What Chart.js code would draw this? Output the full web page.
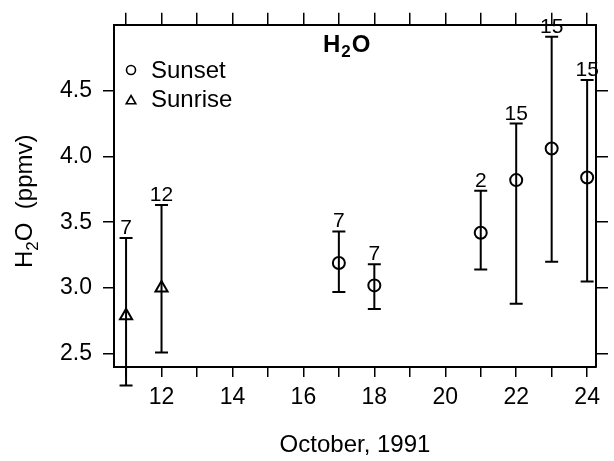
<!DOCTYPE html>
<html>
<head>
<meta charset="utf-8">
<script src="https://cdn.jsdelivr.net/npm/chart.js@4.4.0/dist/chart.umd.min.js"></script>
<style>
  html, body { margin: 0; padding: 0; background: #ffffff; }
  #wrap { width: 614px; height: 461px; }
</style>
</head>
<body>
<div id="wrap"><canvas id="c" width="614" height="461"></canvas></div>
<script>
// ---- data ----
const sunriseDays = [11, 12];
const sunriseMean = [2.79, 3.00];
const sunriseLow  = [2.26, 2.51];
const sunriseHigh = [3.38, 3.63];
const sunriseN    = [7, 12];

const sunsetDays = [17, 18, 21, 22, 23, 24];
const sunsetMean = [3.19, 3.02, 3.42, 3.82, 4.06, 3.84];
const sunsetLow  = [2.97, 2.84, 3.14, 2.88, 3.20, 3.05];
const sunsetHigh = [3.43, 3.18, 3.74, 4.25, 4.91, 4.58];
const sunsetN    = [7, 7, 2, 15, 15, 15];

const xTicks = [11, 12, 13, 14, 15, 16, 17, 18, 19, 20, 21, 22, 23, 24];
const yTicks = [2.5, 3.0, 3.5, 4.0, 4.5];

const X_MIN = 10.66, X_MAX = 24.25;
const Y_MIN = 2.4, Y_MAX = 5.0;

const FONT = '"Liberation Sans", Arial, Helvetica, sans-serif';

// ---- error bars + counts ----
const errorBars = {
  id: 'errorBars',
  beforeDatasetsDraw(chart) {
    const ctx = chart.ctx, xs = chart.scales.x, ys = chart.scales.y;
    const groups = [
      [sunriseDays, sunriseLow, sunriseHigh, sunriseN],
      [sunsetDays, sunsetLow, sunsetHigh, sunsetN]
    ];
    ctx.save();
    ctx.strokeStyle = '#000';
    ctx.fillStyle = '#000';
    ctx.lineWidth = 2;
    ctx.font = '21px ' + FONT;
    ctx.textAlign = 'center';
    ctx.textBaseline = 'alphabetic';
    groups.forEach(([d, lo, hi, n]) => {
      d.forEach((day, i) => {
        const px = xs.getPixelForValue(day);
        const pl = ys.getPixelForValue(lo[i]);
        const ph = ys.getPixelForValue(hi[i]);
        ctx.beginPath();
        ctx.moveTo(px, pl); ctx.lineTo(px, ph);
        ctx.moveTo(px - 6.5, pl); ctx.lineTo(px + 6.5, pl);
        ctx.moveTo(px - 6.5, ph); ctx.lineTo(px + 6.5, ph);
        ctx.stroke();
        ctx.fillText(String(n[i]), px, ph - 4);
      });
    });
    ctx.restore();
  }
};

// ---- title, y-axis title, legend ----
const annotations = {
  id: 'annotations',
  afterDraw(chart) {
    const ctx = chart.ctx;
    ctx.save();
    ctx.fillStyle = '#000';
    ctx.strokeStyle = '#000';
    ctx.textBaseline = 'alphabetic';
    ctx.textAlign = 'left';

    // chart title H2O (bold, subscript)
    let x = 323, base = 52;
    ctx.font = 'bold 24px ' + FONT;
    ctx.fillText('H', x, base); x += ctx.measureText('H').width;
    ctx.font = 'bold 17px ' + FONT;
    ctx.fillText('2', x + 1, base + 5); x += ctx.measureText('2').width + 2;
    ctx.font = 'bold 24px ' + FONT;
    ctx.fillText('O', x, base);

    // y-axis title
    ctx.save();
    ctx.translate(32, 268);
    ctx.rotate(-Math.PI / 2);
    let t = 0;
    ctx.font = '24px ' + FONT;
    ctx.fillText('H', t, 0); t += ctx.measureText('H').width;
    ctx.font = '17px ' + FONT;
    ctx.fillText('2', t, 6); t += ctx.measureText('2').width;
    ctx.font = '24px ' + FONT;
    ctx.fillText('O  (ppmv)', t, 0);
    ctx.restore();

    // legend
    ctx.lineWidth = 1.6;
    ctx.beginPath();
    ctx.arc(131, 70, 4.5, 0, Math.PI * 2);
    ctx.stroke();
    ctx.beginPath();
    const tx = 131, ty = 101, r = 5.5;
    ctx.moveTo(tx, ty - r);
    ctx.lineTo(tx + r * Math.sin(2 * Math.PI / 3), ty - r * Math.cos(2 * Math.PI / 3));
    ctx.lineTo(tx + r * Math.sin(4 * Math.PI / 3), ty - r * Math.cos(4 * Math.PI / 3));
    ctx.closePath();
    ctx.stroke();
    ctx.font = '24px ' + FONT;
    ctx.fillText('Sunset', 151, 78);
    ctx.fillText('Sunrise', 151, 107);
    ctx.restore();
  }
};

const tickGrid = (len) => ({
  display: true, drawOnChartArea: false, drawTicks: true, tickLength: len,
  color: '#000', lineWidth: 1.5, tickColor: '#000', tickWidth: 1.5
});
const frame = { display: true, color: '#000', width: 2 };

new Chart(document.getElementById('c'), {
  type: 'scatter',
  data: {
    datasets: [
      {
        label: 'Sunset',
        data: sunsetDays.map((d, i) => ({ x: d, y: sunsetMean[i] })),
        pointStyle: 'circle', pointRadius: 6, borderWidth: 2,
        borderColor: '#000', backgroundColor: 'rgba(0,0,0,0)', showLine: false, clip: false
      },
      {
        label: 'Sunrise',
        data: sunriseDays.map((d, i) => ({ x: d, y: sunriseMean[i] })),
        pointStyle: 'triangle', pointRadius: 7, borderWidth: 2,
        borderColor: '#000', backgroundColor: 'rgba(0,0,0,0)', showLine: false, clip: false
      }
    ]
  },
  options: {
    responsive: false,
    animation: false,
    events: [],
    layout: { padding: 0 },
    plugins: { legend: { display: false }, tooltip: { enabled: false }, title: { display: false } },
    scales: {
      x: {
        type: 'linear', position: 'bottom', min: X_MIN, max: X_MAX,
        afterBuildTicks: s => { s.ticks = xTicks.map(v => ({ value: v })); },
        afterFit: s => { s.height = 94; },
        grid: tickGrid(10),
        border: frame,
        ticks: {
          autoSkip: false, maxRotation: 0, padding: 7, color: '#000',
          font: { family: FONT, size: 23 },
          callback: v => (v % 2 === 0 ? String(v) : '')
        },
        title: {
          display: true, text: 'October, 1991', color: '#000',
          font: { family: FONT, size: 24 }, padding: { top: 0, bottom: 1 }
        }
      },
      x2: {
        type: 'linear', position: 'top', min: X_MIN, max: X_MAX,
        afterBuildTicks: s => { s.ticks = xTicks.map(v => ({ value: v })); },
        afterFit: s => { s.height = 17; },
        grid: tickGrid(12),
        border: frame,
        ticks: { display: false }
      },
      y: {
        type: 'linear', position: 'left', min: Y_MIN, max: Y_MAX,
        afterBuildTicks: s => { s.ticks = yTicks.map(v => ({ value: v })); },
        afterFit: s => { s.width = 114; },
        grid: tickGrid(11),
        border: frame,
        ticks: {
          padding: 11, color: '#000', font: { family: FONT, size: 23 },
          callback: v => Number(v).toFixed(1)
        }
      },
      y2: {
        type: 'linear', position: 'right', min: Y_MIN, max: Y_MAX,
        afterBuildTicks: s => { s.ticks = yTicks.map(v => ({ value: v })); },
        afterFit: s => { s.width = 18; },
        grid: tickGrid(12),
        border: frame,
        ticks: { display: false }
      }
    }
  },
  plugins: [errorBars, annotations]
});
</script>
</body>
</html>
